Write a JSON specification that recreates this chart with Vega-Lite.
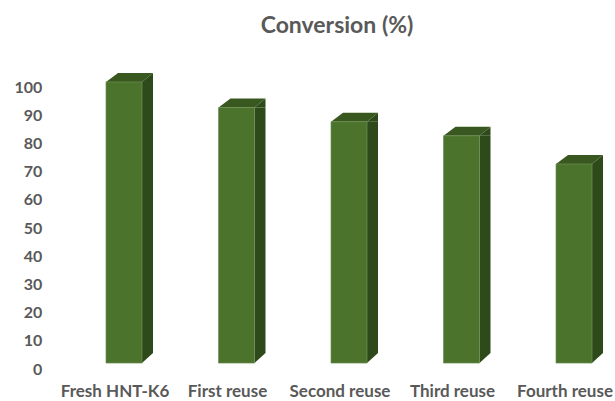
{
  "$schema": "https://vega.github.io/schema/vega-lite/v6.json",
  "width": 562.5,
  "height": 282,
  "autosize": {"type": "none"},
  "padding": {"left": 58.75, "top": 87, "right": 0, "bottom": 32},
  "background": "white",
  "view": {"stroke": null},
  "title": {
    "text": "Conversion (%)",
    "font": "Lato",
    "fontSize": 23,
    "fontWeight": "bold",
    "color": "#595959",
    "anchor": "middle",
    "baseline": "alphabetic",
    "dx": -3,
    "offset": 17
  },
  "data": {
    "values": [
      {"stage": "Fresh HNT-K6", "conversion": 101.8},
      {"stage": "First reuse", "conversion": 92.7},
      {"stage": "Second reuse", "conversion": 87.7},
      {"stage": "Third reuse", "conversion": 82.7},
      {"stage": "Fourth reuse", "conversion": 72.7}
    ]
  },
  "encoding": {
    "x": {
      "field": "stage",
      "type": "nominal",
      "sort": null,
      "title": null,
      "scale": {"paddingInner": 0, "paddingOuter": 0},
      "axis": {
        "labelAngle": 0,
        "labelFont": "Lato",
        "labelFontSize": 17,
        "labelFontWeight": "bold",
        "labelColor": "#595959",
        "labelPadding": 14,
        "labelLimit": 0,
        "labelOverlap": false,
        "ticks": false,
        "domain": false,
        "grid": false
      }
    },
    "y": {
      "field": "conversion",
      "type": "quantitative",
      "title": null,
      "scale": {"domain": [0, 100], "nice": false, "zero": true}
    }
  },
  "layer": [
    {
      "description": "Right-hand side of each column",
      "mark": {"type": "bar", "width": 11, "xOffset": 32.5, "y2Offset": -10, "color": "#2e4a1a", "clip": false},
      "encoding": {"y2": {"datum": 2.1}}
    },
    {
      "description": "Wedge closing the foot of the side face",
      "mark": {"type": "point", "filled": true, "opacity": 1, "size": 4, "color": "#2e4a1a", "shape": "M27,0L27,-10L38,-10Z"},
      "encoding": {"y": {"datum": 2.1, "title": null}}
    },
    {
      "description": "Wedge closing the head of the side face",
      "mark": {"type": "point", "filled": true, "opacity": 1, "size": 4, "color": "#2e4a1a", "shape": "M27,0L38,-9L38,0Z"}
    },
    {
      "description": "Top face of each column",
      "mark": {"type": "point", "filled": true, "opacity": 1, "size": 4, "color": "#38581f", "shape": "M-9,0L27,0L38,-9L3,-9Z"}
    },
    {
      "description": "Front face of each column",
      "mark": {"type": "bar", "width": 36, "xOffset": 9, "color": "#4c732b", "stroke": "#6f8f57", "strokeWidth": 0.7, "clip": false},
      "encoding": {"y2": {"datum": 2.1}}
    }
  ],
  "config": {
    "style": {"cell": {"stroke": null}},
    "axisY": {
      "tickCount": 11,
      "labelFont": "Lato",
      "labelFontSize": 16,
      "labelFontWeight": "bold",
      "labelColor": "#595959",
      "labelPadding": 17,
      "labelOverlap": false,
      "ticks": false,
      "domain": false,
      "grid": false
    }
  }
}
